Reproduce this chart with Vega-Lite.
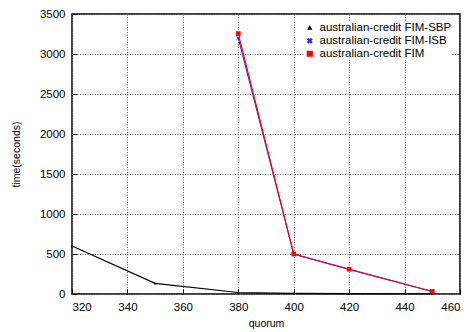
{
  "$schema": "https://vega.github.io/schema/vega-lite/v6.json",
  "width": 388,
  "height": 280,
  "autosize": "none",
  "padding": {"left": 72, "top": 14, "right": 13, "bottom": 38},
  "background": "white",
  "config": {
    "font": "Liberation Sans",
    "view": {"stroke": "black", "strokeWidth": 1.5},
    "axis": {
      "labelFont": "Liberation Sans",
      "titleFont": "Liberation Sans",
      "labelFontSize": 11.5,
      "titleFontSize": 10.5,
      "titleFontWeight": "normal",
      "labelColor": "black",
      "titleColor": "black",
      "domain": false,
      "ticks": true,
      "tickSize": -5,
      "tickColor": "black",
      "tickWidth": 1
    }
  },
  "data": {
    "values": [
      {"quorum": 320, "time": 600, "series": "australian-credit FIM-SBP"},
      {"quorum": 350, "time": 133, "series": "australian-credit FIM-SBP"},
      {"quorum": 380, "time": 18, "series": "australian-credit FIM-SBP"},
      {"quorum": 400, "time": 8, "series": "australian-credit FIM-SBP"},
      {"quorum": 420, "time": 5, "series": "australian-credit FIM-SBP"},
      {"quorum": 450, "time": 3, "series": "australian-credit FIM-SBP"},
      {"quorum": 380, "time": 3200, "series": "australian-credit FIM-ISB"},
      {"quorum": 400, "time": 500, "series": "australian-credit FIM-ISB"},
      {"quorum": 420, "time": 308, "series": "australian-credit FIM-ISB"},
      {"quorum": 450, "time": 32, "series": "australian-credit FIM-ISB"},
      {"quorum": 380, "time": 3255, "series": "australian-credit FIM"},
      {"quorum": 400, "time": 500, "series": "australian-credit FIM"},
      {"quorum": 420, "time": 310, "series": "australian-credit FIM"},
      {"quorum": 450, "time": 32, "series": "australian-credit FIM"}
    ]
  },
  "encoding": {
    "x": {
      "field": "quorum", "type": "quantitative",
      "scale": {"domain": [320, 460], "nice": false, "zero": false},
      "axis": {"values": [320, 340, 360, 380, 400, 420, 440, 460], "title": "quorum", "labelPadding": 12, "titlePadding": 6,
        "grid": true, "gridColor": "#666666", "gridDash": [1, 1.5], "gridWidth": 1, "gridOpacity": 1}
    },
    "y": {
      "field": "time", "type": "quantitative",
      "scale": {"domain": [0, 3500], "nice": false},
      "axis": {"values": [0, 500, 1000, 1500, 2000, 2500, 3000, 3500], "format": "d", "title": "time(seconds)", "labelPadding": 12, "titlePadding": 18,
        "grid": true, "gridColor": "#666666", "gridDash": [1, 1.5], "gridWidth": 1, "gridOpacity": 1}
    },
    "color": {
      "field": "series", "type": "nominal",
      "title": null,
      "scale": {
        "domain": ["australian-credit FIM-SBP", "australian-credit FIM-ISB", "australian-credit FIM"],
        "range": ["#000000", "#2a2aff", "#ff0000"]
      },
      "legend": {
        "title": null,
        "orient": "top-right",
        "offset": 8,
        "labelFontSize": 11.5,
        "labelFont": "Liberation Sans",
        "labelColor": "black",
        "rowPadding": 0,
        "symbolSize": 36,
        "fillColor": "white"
      }
    },
    "order": {"field": "quorum"}
  },
  "layer": [
    {
      "mark": {"type": "line", "strokeWidth": 1.1}
    },
    {
      "mark": {"type": "point", "filled": true, "opacity": 1},
      "encoding": {
        "shape": {
          "field": "series", "type": "nominal",
          "title": null,
          "scale": {
            "domain": ["australian-credit FIM-SBP", "australian-credit FIM-ISB", "australian-credit FIM"],
            "range": ["triangle-up", "M-1,-0.7L-0.7,-1L0,-0.3L0.7,-1L1,-0.7L0.3,0L1,0.7L0.7,1L0,0.3L-0.7,1L-1,0.7L-0.3,0Z", "square"]
          }
        },
        "size": {
          "field": "series", "type": "nominal",
          "scale": {
            "domain": ["australian-credit FIM-SBP", "australian-credit FIM-ISB", "australian-credit FIM"],
            "range": [8, 22, 36]
          },
          "legend": null
        }
      }
    }
  ]
}
